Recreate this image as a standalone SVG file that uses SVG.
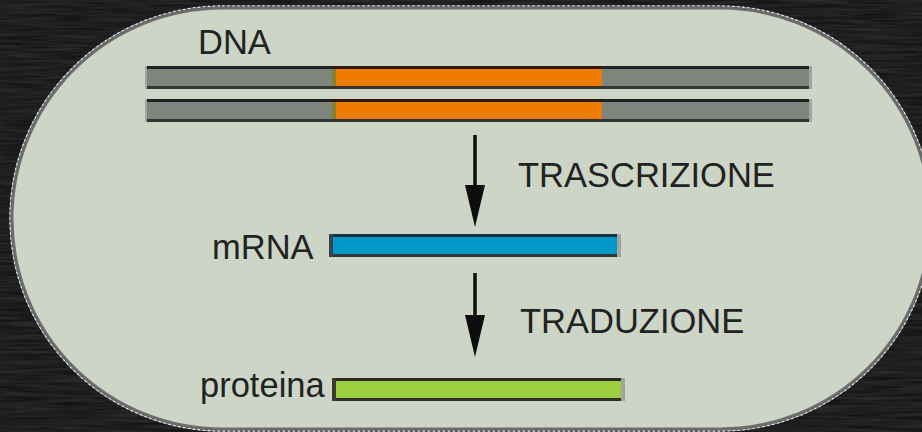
<svg xmlns="http://www.w3.org/2000/svg" width="922" height="432" viewBox="0 0 922 432">
  <defs>
    <!-- grainy dark backdrop -->
    <filter id="grain" x="0" y="0" width="100%" height="100%" color-interpolation-filters="sRGB">
      <feTurbulence type="fractalNoise" baseFrequency="0.02 0.35" numOctaves="3" seed="7" result="n"/>
      <feColorMatrix in="n" type="matrix" values="0.16 0 0 0 0.04  0.16 0 0 0 0.04  0.16 0 0 0 0.04  0 0 0 0 1"/>
    </filter>
    <marker id="head" markerUnits="userSpaceOnUse" markerWidth="44" markerHeight="24" refX="0" refY="10" orient="auto" overflow="visible">
      <path d="M0,0 L42,10 L0,20 Z" fill="#0d0d0d"/>
    </marker>
    <style>
      .label { font-family: "Liberation Sans", Arial, sans-serif; font-size: 34.5px; fill: #222; }
      .shaft { stroke: #0d0d0d; stroke-width: 3.5; fill: none; marker-end: url(#head); }
      .edge { fill: #a2a49e; }
      .topline { fill: #1f2321; }
      .botline { fill: #343434; }
    </style>
  </defs>

  <!-- backdrop -->
  <rect x="0" y="0" width="922" height="432" filter="url(#grain)"/>

  <!-- cell outline -->
  <g id="cell">
    <rect x="10" y="6" width="922.5" height="425" rx="212.5" ry="212.5" fill="none" stroke="#9a9a9a" stroke-width="1.2"/>
    <rect x="10" y="6" width="922.5" height="425" rx="212.5" ry="212.5" fill="none" stroke="#f2f2f2" stroke-width="1.4" stroke-dasharray="2 3"/>
    <rect x="12" y="8" width="918.5" height="421" rx="210.5" ry="210.5" fill="#cdd5c6" stroke="#6c6c6c" stroke-width="3"/>
  </g>

  <!-- DNA double strand with gene segment -->
  <g id="dna">
    <text class="label" x="198" y="54">DNA</text>
    <rect x="145" y="66" width="667" height="23" fill="#7f847c"/>
    <rect class="topline" x="145" y="66" width="667" height="3"/>
    <rect class="botline" x="145" y="86" width="667" height="3"/>
    <rect x="332" y="66" width="270" height="23" fill="#ee7c00"/>
    <rect x="332" y="69" width="4" height="17" fill="#878233"/>
    <rect x="332" y="66" width="270" height="3" fill="#2e1a04"/>
    <rect class="botline" x="332" y="86" width="270" height="3"/>
    <rect class="edge" x="145" y="66" width="2" height="23"/>
    <rect class="edge" x="809" y="66" width="3" height="23"/>

    <rect x="145" y="99" width="667" height="23" fill="#7f847c"/>
    <rect class="topline" x="145" y="99" width="667" height="3"/>
    <rect class="botline" x="145" y="119" width="667" height="3"/>
    <rect x="332" y="99" width="270" height="23" fill="#ee7c00"/>
    <rect x="332" y="102" width="4" height="17" fill="#878233"/>
    <rect x="332" y="99" width="270" height="3" fill="#2e1a04"/>
    <rect class="botline" x="332" y="119" width="270" height="3"/>
    <rect class="edge" x="145" y="99" width="2" height="23"/>
    <rect class="edge" x="809" y="99" width="3" height="23"/>
  </g>

  <!-- messenger RNA -->
  <g id="mrna">
    <text class="label" x="212" y="259">mRNA</text>
    <rect x="329" y="234" width="292" height="23" fill="#0099c8"/>
    <rect x="329" y="234" width="292" height="3" fill="#16323c"/>
    <rect class="botline" x="329" y="254" width="292" height="3"/>
    <rect x="329" y="234" width="4" height="23" fill="#33454c"/>
    <rect class="edge" x="617" y="234" width="4" height="23"/>
  </g>

  <!-- protein -->
  <g id="proteina">
    <text class="label" x="200" y="397">proteina</text>
    <rect x="332" y="378" width="293" height="23" fill="#9bcf40"/>
    <rect x="332" y="378" width="293" height="3" fill="#2a2a1e"/>
    <rect x="332" y="398" width="293" height="3" fill="#2f2f2a"/>
    <rect x="332" y="378" width="4" height="23" fill="#3a3a32"/>
    <rect class="edge" x="621" y="378" width="4" height="23"/>
  </g>

  <!-- process arrows -->
  <g id="connectors">
    <line class="shaft" x1="475" y1="135" x2="475" y2="185"/>
    <text class="label" x="518" y="187">TRASCRIZIONE</text>
    <line class="shaft" x1="475" y1="273" x2="475" y2="315"/>
    <text class="label" x="520" y="333">TRADUZIONE</text>
  </g>
</svg>
